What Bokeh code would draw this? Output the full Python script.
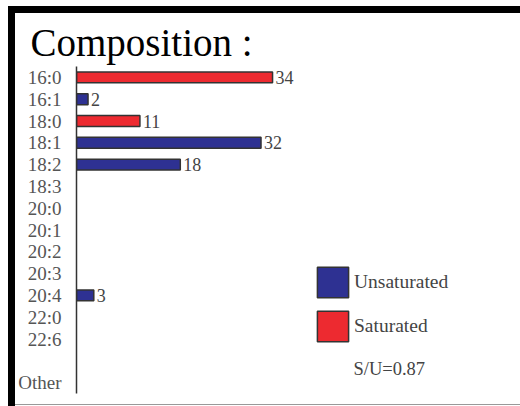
from bokeh.plotting import figure
from bokeh.models import FactorRange, Range1d, Label, Legend, LegendItem, ColumnDataSource, Spacer
from bokeh.layouts import row, column
from bokeh.core.properties import value
from bokeh.embed import file_html
from bokeh.resources import INLINE

categories = ["16:0", "16:1", "18:0", "18:1", "18:2", "18:3", "20:0", "20:1",
              "20:2", "20:3", "20:4", "22:0", "22:6", " ", "Other"]
values = [34, 2, 11, 32, 18, 0, 0, 0, 0, 0, 3, 0, 0, 0, 0]
kinds = ["S", "U", "S", "U", "U", "U", "S", "U", "U", "U", "U", "S", "U", "", ""]
title_text = "Composition :"
ratio_text = "S/U=0.87"

RED = "#ED2A30"
BLUE = "#2E3192"
SERIF = "Liberation Serif"


def bar(w, h, color):
    return Spacer(width=w, height=h, styles={"background-color": color})


p = figure(width=505, height=391, output_backend="svg", toolbar_location=None,
           y_range=FactorRange(factors=list(reversed(categories))),
           x_range=Range1d(0, 77), x_axis_location=None,
           min_border_left=61, min_border_right=0, min_border_top=53, min_border_bottom=11)
p.outline_line_color = None
p.grid.visible = False

p.title.text = title_text
p.title.text_font = SERIF
p.title.text_font_size = "39px"
p.title.text_font_style = "normal"
p.title.text_color = "black"
p.title.align = "left"
p.title.offset = -46
p.title.standoff = 6


def src(kind):
    ys = [c for c, v, k in zip(categories, values, kinds) if k == kind and v > 0]
    xs = [v for c, v, k in zip(categories, values, kinds) if k == kind and v > 0]
    return ColumnDataSource(dict(y=ys, x=xs, t=[str(v) for v in xs]))


sS = src("S")
sU = src("U")
rS = p.hbar(y="y", right="x", left=0, height=0.5, source=sS, fill_color=RED,
            line_color="#333333", line_width=1.5)
rU = p.hbar(y="y", right="x", left=0, height=0.5, source=sU, fill_color=BLUE,
            line_color="#333333", line_width=1.5)
for s in (sS, sU):
    p.text(x="x", y="y", text="t", source=s, x_offset=3, text_baseline="middle",
           text_font=value(SERIF), text_font_size="18px", text_color="#444444")

ax = p.yaxis[0]
ax.axis_line_color = "#333333"
ax.axis_line_width = 1.5
ax.major_tick_line_color = None
ax.minor_tick_line_color = None
ax.major_label_text_font = SERIF
ax.major_label_text_font_size = "19px"
ax.major_label_text_color = "#555555"
ax.major_label_standoff = 9

legend = Legend(items=[LegendItem(label="Unsaturated", renderers=[rU]),
                       LegendItem(label="Saturated", renderers=[rS])],
                location=(237, 48), glyph_width=39, glyph_height=38, spacing=6,
                padding=0, margin=0, label_standoff=2,
                label_text_font=SERIF, label_text_font_size="19.5px", label_text_color="#444444",
                background_fill_alpha=0, border_line_color=None)
p.add_layout(legend)

p.add_layout(Label(x=277, y=25, x_units="screen", y_units="screen", text=ratio_text,
                   text_baseline="middle",
                   text_font=SERIF, text_font_size="18.5px", text_color="#444444"))

left_bar = bar(7, 400, "black")
top_bar = bar(505, 7, "black")
bottom_line = bar(505, 1, "#999999")

layout = column(Spacer(height=6, width=520),
                row(Spacer(width=8, height=400), left_bar,
                    column(top_bar, p, bottom_line, spacing=0), spacing=0),
                spacing=0)

open("out.html", "w").write(file_html(layout, INLINE))
